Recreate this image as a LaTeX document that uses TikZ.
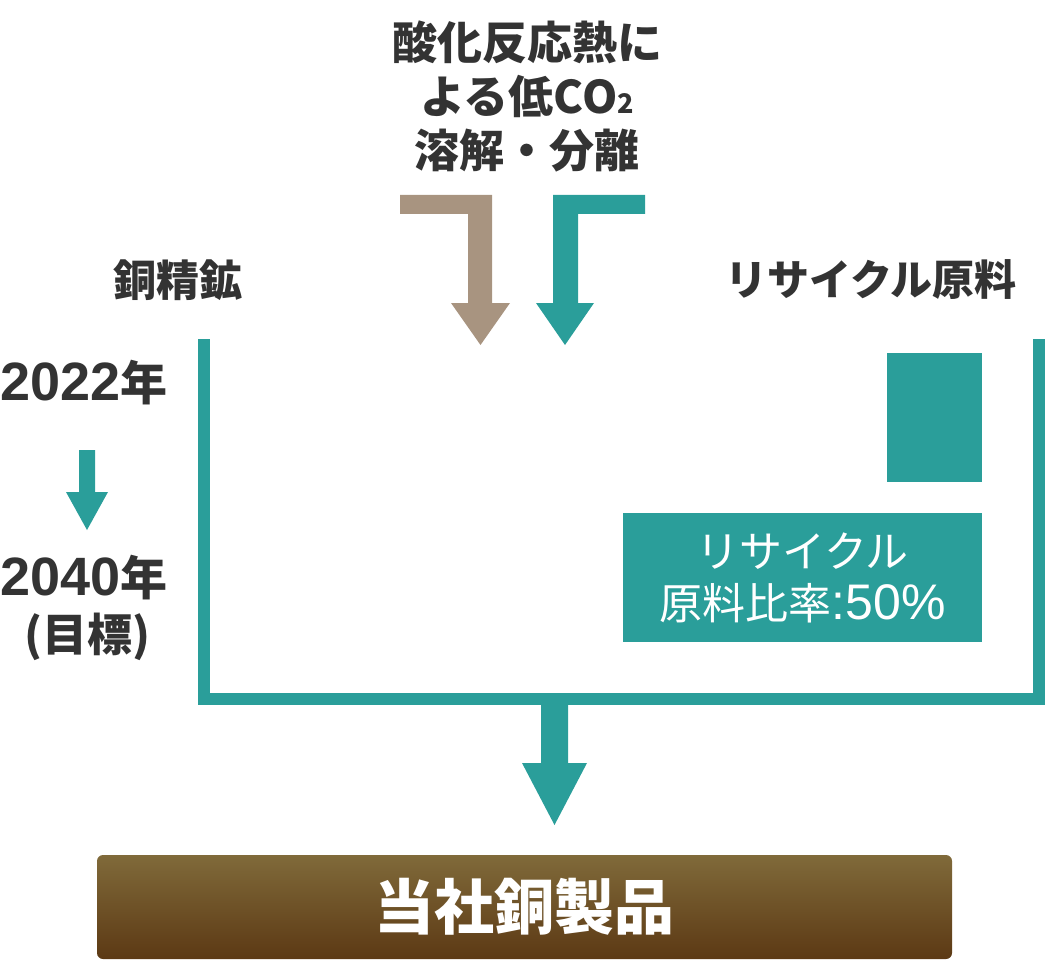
\documentclass[tikz,border=0pt]{standalone}
\usepackage{fontspec}
\newfontfamily\jpfont{Noto Sans CJK JP}
\newfontfamily\numfont{Liberation Sans}
\usetikzlibrary{positioning}
\definecolor{tealc}{HTML}{2A9E9A}
\definecolor{taupe}{HTML}{A89480}
\definecolor{ink}{HTML}{333333}
\definecolor{boxtop}{HTML}{806A3A}
\definecolor{boxbot}{HTML}{5C3914}
\tikzset{
	heading/.style={text=ink, inner sep=0pt, font=\jpfont\bfseries\fontsize{42}{49}\selectfont},
	yeartext/.style={text=ink, inner sep=0pt, font=\jpfont\bfseries\fontsize{47}{54}\selectfont},
	flow/.style={fill=tealc, draw=none},
}
\newcommand{\yr}[1]{{\numfont\bfseries\fontsize{54}{54}\selectfont #1}}
\begin{document}
\begin{tikzpicture}[x=1pt,y=1pt,yscale=-1,xscale=1]
		\useasboundingbox (0,0) rectangle (1050,960);
		\node [heading, align=center, font=\jpfont\bfseries\fontsize{45}{54}\selectfont] (process) at (527,96) {酸化反応熱に\\よる低CO{\fontsize{27}{27}\selectfont 2}\\溶解・分離};
		\fill [taupe] (400,195) -- (492,195) -- (492,303) -- (510,303) -- (480.5,345) -- (451,303) -- (468,303) -- (468,214) -- (400,214) -- cycle ;
		\fill [tealc] (645,195) -- (553,195) -- (553,303) -- (536,303) -- (565,345) -- (594,303) -- (578,303) -- (578,214) -- (645,214) -- cycle ;
		\node [heading, font=\jpfont\bfseries\fontsize{43}{49}\selectfont] (ore) at (178,280) {銅精鉱};
		\node [heading] (recycled) at (871,280) {リサイクル原料};
		\node [yeartext, anchor=west] (now) at (0,383) {\yr{2022}年};
		\node [yeartext, anchor=west] (goal) at (0,578) {\yr{2040}年};
		\node [yeartext, font=\jpfont\bfseries\fontsize{45}{48}\selectfont] (goalnote) at (87,637) {(目標)};
		\fill [tealc] (79,450) -- (95,450) -- (95,492) -- (108,492) -- (87,530) -- (66,492) -- (79,492) -- cycle ;
		\draw [tealc, line width=12pt, line join=miter] (204,339) -- (204,699) -- (1039,699) -- (1039,339) ;
		\node [flow, minimum width=95pt, minimum height=129pt, inner sep=0pt] (share) at (934.5,417.5) {};
		\node [flow, minimum width=359pt, minimum height=129pt, inner sep=0pt, text=white, align=center, font=\jpfont\fontsize{43}{52}\selectfont] (ratio) at (802.5,577.5) {リサイクル\\原料比率{\numfont\fontsize{50}{52}\selectfont :50\%}};
		\coordinate (merge) at (554.5,705);
		\coordinate (tip) at (554.5,825);
		\node [minimum width=855pt, minimum height=104pt, inner sep=0pt, rounded corners=6pt, top color=boxtop, bottom color=boxbot, text=white, font=\jpfont\bfseries\fontsize{60}{60}\selectfont] (product) at (524.5,907) {当社銅製品};
		\fill [tealc] ([xshift=-13.5pt]merge) -- ([xshift=13.5pt]merge) -- ([xshift=13.5pt,yshift=58pt]merge) -- ([xshift=32.5pt,yshift=58pt]merge) -- (tip) -- ([xshift=-32.5pt,yshift=58pt]merge) -- ([xshift=-13.5pt,yshift=58pt]merge) -- cycle ;
\end{tikzpicture}
\end{document}
